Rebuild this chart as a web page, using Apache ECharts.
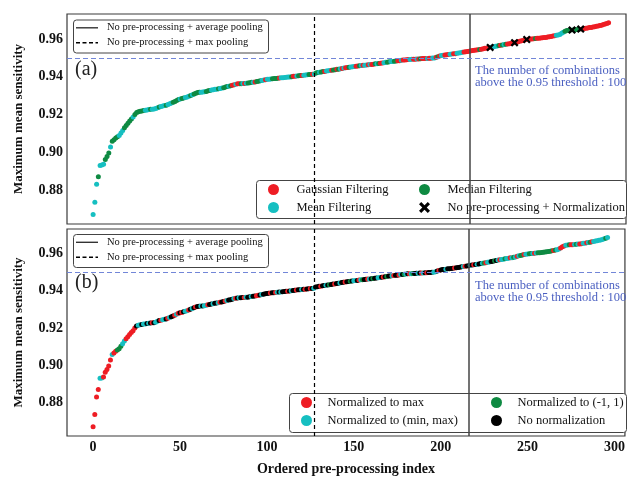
<!DOCTYPE html>
<html>
<head>
<meta charset="utf-8">
<script src="https://cdn.jsdelivr.net/npm/echarts@6/dist/echarts.min.js"></script>
<style>
html,body{margin:0;padding:0;background:#fff;}
#main{width:628px;height:477px;}
</style>
</head>
<body>
<div id="main"></div>
<script>
// sorted max mean sensitivity, one value per pre-processing combination (index 0..296)
var values = [
0.8670,0.8735,0.8830,0.8870,0.8930,0.8932,0.8937,0.8962,0.8977,0.8996,
0.9028,0.9058,0.9066,0.9075,0.9082,0.9089,0.9102,0.9115,0.9130,0.9142,
0.9153,0.9165,0.9176,0.9186,0.9200,0.9211,0.9215,0.9217,0.9219,0.9221,
0.9222,0.9224,0.9226,0.9227,0.9228,0.9229,0.9231,0.9236,0.9240,0.9242,
0.9245,0.9247,0.9249,0.9253,0.9257,0.9261,0.9265,0.9269,0.9274,0.9279,
0.9282,0.9284,0.9287,0.9290,0.9293,0.9297,0.9301,0.9305,0.9309,0.9313,
0.9316,0.9317,0.9318,0.9319,0.9320,0.9322,0.9325,0.9327,0.9329,0.9331,
0.9333,0.9334,0.9336,0.9338,0.9340,0.9342,0.9345,0.9348,0.9350,0.9352,
0.9355,0.9358,0.9360,0.9362,0.9363,0.9363,0.9364,0.9364,0.9365,0.9366,
0.9368,0.9370,0.9371,0.9372,0.9374,0.9376,0.9378,0.9380,0.9382,0.9384,
0.9386,0.9387,0.9388,0.9389,0.9390,0.9391,0.9392,0.9393,0.9394,0.9395,
0.9396,0.9397,0.9398,0.9399,0.9400,0.9402,0.9403,0.9404,0.9405,0.9406,
0.9407,0.9408,0.9409,0.9410,0.9411,0.9412,0.9413,0.9414,0.9420,0.9422,
0.9424,0.9425,0.9427,0.9428,0.9430,0.9431,0.9433,0.9434,0.9436,0.9437,
0.9439,0.9440,0.9442,0.9444,0.9446,0.9447,0.9449,0.9450,0.9451,0.9453,
0.9454,0.9455,0.9456,0.9458,0.9459,0.9460,0.9461,0.9462,0.9463,0.9464,
0.9465,0.9466,0.9468,0.9469,0.9470,0.9471,0.9473,0.9474,0.9476,0.9477,
0.9479,0.9480,0.9481,0.9482,0.9483,0.9484,0.9485,0.9487,0.9488,0.9489,
0.9490,0.9491,0.9491,0.9492,0.9493,0.9493,0.9494,0.9494,0.9495,0.9496,
0.9496,0.9497,0.9497,0.9498,0.9498,0.9499,0.9499,0.9503,0.9506,0.9509,
0.9512,0.9514,0.9515,0.9516,0.9518,0.9519,0.9520,0.9521,0.9522,0.9524,
0.9525,0.9527,0.9529,0.9531,0.9532,0.9533,0.9535,0.9537,0.9539,0.9540,
0.9541,0.9543,0.9544,0.9546,0.9548,0.9550,0.9551,0.9553,0.9555,0.9557,
0.9559,0.9561,0.9563,0.9565,0.9567,0.9568,0.9570,0.9572,0.9573,0.9575,
0.9577,0.9578,0.9580,0.9582,0.9585,0.9588,0.9590,0.9592,0.9595,0.9597,
0.9598,0.9599,0.9600,0.9601,0.9602,0.9603,0.9604,0.9605,0.9606,0.9607,
0.9608,0.9610,0.9611,0.9613,0.9615,0.9617,0.9619,0.9621,0.9624,0.9630,
0.9636,0.9641,0.9645,0.9646,0.9647,0.9647,0.9648,0.9649,0.9650,0.9651,
0.9652,0.9653,0.9655,0.9656,0.9658,0.9660,0.9661,0.9663,0.9665,0.9667,
0.9669,0.9671,0.9673,0.9676,0.9679,0.9682,0.9686
];

// (a) filter per point: G gaussian, M mean, D median, X no pre-processing + normalization
var filterCodes = [
"MMMDMMMDDD","MDDDDMMMDD","DDDMDDDDDD","MMMDMMMMDM","MMDMMMDDDD",
"MDDMMMDMDD","DDMMMDDDMM","MMDMMDDDMD","GGMGGDMGMD","DDMGDDDMMG",
"MMMDDDDGMM","MMMMDGGMDD","GMMMDDGMDD","MDDGMMMGDD","GDMGMGGDMM",
"MGGDMGMMGM","GGDMDGGMMD","DMMDDGGMGG","GGMMGGMGDG","GGMGGMMGDG",
"MMGGGMMGGM","MMMGGGGGGG","GGDGGGGGXM","MMMDGDMDGG","GGXGGGGGGX",
"GGGGDGGGGG","GGGGGGMMMM","MDDDDXDDDD","XGGGGGGGGG","GGGGGGG"
].join("");

// (b) normalization per point: R to max, C to (min,max), E to (-1,1), K none
var normCodes = [
"RRRRCCRRRR","RCRREEECCR","RRRRRKCCKC","CKCKRKCCKR","CCKRCKKRCR",
"KRKCCRKCKR","KKCKCCRKKC","KKCRKKRCKK","KCRKCKKRCK","KCKKRRKCKK",
"KKRKKRCKCK","KKRKCKKRKK","CKRKKRKCKK","KRKKCKEKKR","KKCKKRKKEK",
"CCKRCEKKRC","KEKKCCKRKE","KKCRKKRCKE","CKRCEKKCKR","CKRKKKCCKR",
"KKKCKKKKRK","KKKCRKKCKR","KCKKCERCCK","KEKCRCCECC","RCECRCEERC",
"CEECRCEEEE","EEEEERECCR","RRCCERRCEC","RRCCRCERCC","CCCCCEC"
].join("");

var filterNames = {G:"Gaussian Filtering", M:"Mean Filtering", D:"Median Filtering", X:"No pre-processing + Normalization"};
var normNames = {R:"Normalized to max", C:"Normalized to (min, max)", E:"Normalized to (-1, 1)", K:"No normalization"};
var colors = {G:"#ee1d24", M:"#16bfc1", D:"#0e8a42", X:"#000000", R:"#ee1d24", C:"#16bfc1", E:"#0e8a42", K:"#000000"};

var avgPoolIndex = 216;
var maxPoolIndex = 127;
var threshold = 0.95;
var yTicks = [0.88, 0.90, 0.92, 0.94, 0.96];
var xTicks = [0, 50, 100, 150, 200, 250, 300];
var lineAvgName = "No pre-processing + average pooling";
var lineMaxName = "No pre-processing + max pooling";
var xPath = "path://M2,0 L5,3 L8,0 L10,2 L7,5 L10,8 L8,10 L5,7 L2,10 L0,8 L3,5 L0,2 Z";

var serif = "Liberation Serif";
var chart = echarts.init(document.getElementById('main'));

// dots of one panel in index order, each coloured by its code (X marks kept apart)
function dotsOf(codes){
	var out = [];
	for (var i = 0; i < values.length; i++){
		var c = codes.charAt(i);
		if (c === 'X') continue;
		out.push({value:[i, values[i]], itemStyle:{color:colors[c]}});
	}
	return out;
}
function pointsFor(codes, code){
	var out = [];
	for (var i = 0; i < values.length; i++){
		if (codes.charAt(i) === code) out.push([i, values[i]]);
	}
	return out;
}

function xAxisFor(gi, showLabels){
	return {
		type:'value', gridIndex:gi, min:-15, max:306,
		splitLine:{show:false}, axisTick:{show:false},
		axisLine:{show:false},
		axisLabel:{show:showLabels, customValues:xTicks, margin:4,
			color:'#111', fontFamily:serif, fontWeight:'bold', fontSize:14},
		name: showLabels ? 'Ordered pre-processing index' : '',
		nameLocation:'middle', nameGap:26,
		nameTextStyle:{color:'#111', fontFamily:serif, fontWeight:'bold', fontSize:14}
	};
}
function yAxisFor(gi){
	return {
		type:'value', gridIndex:gi, min:0.862, max:0.9732,
		splitLine:{show:false}, axisTick:{show:false}, axisLine:{show:false},
		axisLabel:{customValues:yTicks, margin:4, color:'#111', fontFamily:serif,
			fontWeight:'bold', fontSize:14,
			formatter:function(v){ return v.toFixed(2); }},
		name:'Maximum mean sensitivity', nameLocation:'middle', nameGap:42,
		nameTextStyle:{color:'#111', fontFamily:serif, fontWeight:'bold', fontSize:13}
	};
}

var series = [];
[0,1].forEach(function(gi){
	series.push({
		type:'line', xAxisIndex:gi, yAxisIndex:gi, data:[], symbol:'none',
		markLine:{silent:true, symbol:['none','none'], label:{show:false},
			lineStyle:{color:'#444', width:1.5, type:'solid'},
			data:[{xAxis:avgPoolIndex}]}
	});
	series.push({
		type:'line', xAxisIndex:gi, yAxisIndex:gi, data:[], symbol:'none',
		markLine:{silent:true, symbol:['none','none'], label:{show:false},
			lineStyle:{color:'#000', width:1.2, type:[4,3]},
			data:[{xAxis:maxPoolIndex}]}
	});
	series.push({
		type:'line', xAxisIndex:gi, yAxisIndex:gi, data:[], symbol:'none',
		markLine:{silent:true, symbol:['none','none'], label:{show:false},
			lineStyle:{color:'#7286d8', width:1.2, type:[5,3]},
			data:[{yAxis:threshold}]}
	});
});

series.push({
	type:'scatter', xAxisIndex:0, yAxisIndex:0, symbol:'circle', symbolSize:5,
	itemStyle:{opacity:1}, data:dotsOf(filterCodes)
});
series.push({
	type:'scatter', xAxisIndex:1, yAxisIndex:1, symbol:'circle', symbolSize:5,
	itemStyle:{opacity:1}, data:dotsOf(normCodes)
});

// named series for the legends; the X series also carries its own marks, drawn on top
['G','M','D','X'].forEach(function(c){
	series.push({name:filterNames[c], type:'scatter', xAxisIndex:0, yAxisIndex:0,
		symbol: c === 'X' ? xPath : 'circle', symbolSize: c === 'X' ? 8 : 5, z:4,
		itemStyle:{color:colors[c], opacity:1},
		data: c === 'X' ? pointsFor(filterCodes, 'X') : []});
});
['R','C','E','K'].forEach(function(c){
	series.push({name:normNames[c], type:'scatter', xAxisIndex:1, yAxisIndex:1,
		symbol:'circle', itemStyle:{color:colors[c], opacity:1}, data:[]});
});

function dotLegend(left, top, iw, names){
	return {
		orient:'vertical', left:left, top:top, padding:0, itemGap:5,
		itemWidth:iw, itemHeight:11, selectedMode:false,
		itemStyle:{opacity:1},
		textStyle:{fontFamily:serif, fontSize:12.5, color:'#111'},
		data:names.map(function(n){
			return n === filterNames.X ? {name:n, icon:xPath} : {name:n, icon:'circle'};
		})
	};
}

function box(x, y, w, h){
	return {type:'rect', left:x, top:y, z:3, silent:true,
		shape:{width:w, height:h, r:3},
		style:{fill:'#fff', stroke:'#444', lineWidth:1}};
}
function txt(x, y, s, size, color){
	return {type:'text', left:x, top:y, z:5, silent:true,
		style:{text:s, fontFamily:serif, fontSize:size, fill:color}};
}
function seg(x1, y, dash){
	return {type:'line', z:5, silent:true,
		shape:{x1:x1, y1:y, x2:x1 + 22, y2:y},
		style:{stroke:dash ? '#000' : '#333', lineWidth:1.4, lineDash:dash ? [4,2.5] : null}};
}
// line-style key for the two pooling reference lines
function lineKey(y0){
	return [
		box(73, y0, 195, 33),
		seg(76, y0 + 8.3, false),
		txt(107, y0 + 2.5, lineAvgName, 10.5, '#111'),
		seg(76, y0 + 23.3, true),
		txt(107, y0 + 17.5, lineMaxName, 10.5, '#111')
	];
}

var graphics = [].concat(
	lineKey(19.5),
	lineKey(234),
	[
		box(256, 180, 370, 38),
		box(289, 393, 337, 39),
		txt(75, 60, '(a)', 20, '#222'),
		txt(75, 273, '(b)', 20, '#222'),
		txt(475, 64, 'The number of combinations', 12.5, '#4a5fc1'),
		txt(475, 76.5, 'above the 0.95 threshold : 100', 12.5, '#4a5fc1'),
		txt(475, 279, 'The number of combinations', 12.5, '#4a5fc1'),
		txt(475, 291.5, 'above the 0.95 threshold : 100', 12.5, '#4a5fc1')
	]
);

chart.setOption({
	animation:false,
	backgroundColor:'#fff',
	grid:[
		{left:67, right:2, top:14, bottom:253, show:true, borderColor:'#3a3a3a', borderWidth:1.2},
		{left:67, right:2, top:229, bottom:39, show:true, borderColor:'#3a3a3a', borderWidth:1.2}
	],
	xAxis:[xAxisFor(0,false), xAxisFor(1,true)],
	yAxis:[yAxisFor(0), yAxisFor(1)],
	legend:[
		dotLegend(268, 183, 36, [filterNames.G, filterNames.M]),
		dotLegend(419, 183, 36, [filterNames.D, filterNames.X]),
		dotLegend(301, 396, 32, [normNames.R, normNames.C]),
		dotLegend(491, 396, 32, [normNames.E, normNames.K])
	],
	graphic:graphics,
	series:series
});
</script>
</body>
</html>
